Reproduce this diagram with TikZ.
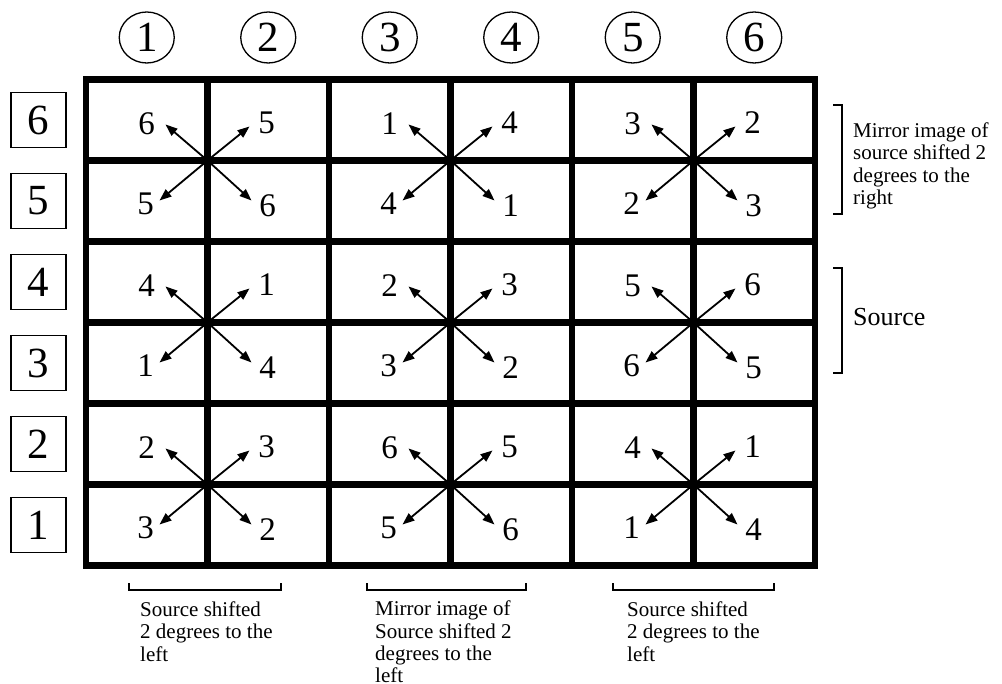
\documentclass[tikz,border=0pt]{standalone}
\usepackage{fontspec}
\setmainfont{Liberation Serif}
\usetikzlibrary{arrows.meta,calc,shapes.geometric}
\begin{document}
\begin{tikzpicture}[x=1pt,y=-1pt,
  gridline/.style={line width=6.5pt},
  colmark/.style={draw, line width=1.3pt, ellipse, minimum width=55pt, minimum height=51pt, inner sep=0pt, font=\fontsize{43}{43}\selectfont},
  rowmark/.style={draw, line width=1.3pt, rectangle, minimum width=55pt, minimum height=55pt, inner sep=0pt, font=\fontsize{43}{43}\selectfont},
  cellnum/.style={inner sep=0pt, font=\fontsize{33}{33}\selectfont},
  arr/.style={line width=1.8pt, -{Triangle[length=12pt,width=9pt]}},
  brk/.style={line width=1.3pt},
  note/.style={inner sep=0pt, anchor=north west, align=left, font=\fontsize{21}{22.3}\selectfont}]
\useasboundingbox (0,0) rectangle (1002,684);
% column markers
\foreach \i/\x in {1/146.75, 2/268.25, 3/389.75, 4/511.25, 5/632.75, 6/754.25}
  \node[colmark] (col\i) at (\x,37.5) {\i};
% row markers
\foreach \i/\y in {6/120, 5/201, 4/282, 3/363, 2/444, 1/525}
  \node[rowmark] (row\i) at (38.5,\y) {\i};
% grid
\draw[gridline] (86,79.5) rectangle (815,565.5);
\foreach \x in {207.5, 329, 450.5, 572, 693.5}
  \draw[gridline] (\x,79.5) -- (\x,565.5);
\foreach \y in {160.5, 241.5, 322.5, 403.5, 484.5}
  \draw[gridline] (86,\y) -- (815,\y);
% blocks
\foreach \bx/\by/\nw/\ne/\sw/\se/\n in {
  207.5/160.5/6/5/5/6/a, 450.5/160.5/1/4/4/1/b, 693.5/160.5/3/2/2/3/c,
  207.5/322.5/4/1/1/4/d, 450.5/322.5/2/3/3/2/e, 693.5/322.5/5/6/6/5/f,
  207.5/484.5/2/3/3/2/g, 450.5/484.5/6/5/5/6/h, 693.5/484.5/4/1/1/4/i} {
  \coordinate (c\n) at (\bx,\by);
  \node[cellnum] (nw\n) at (\bx-61,\by-37) {\nw};
  \node[cellnum] (ne\n) at (\bx+59,\by-38) {\ne};
  \node[cellnum] (sw\n) at (\bx-62,\by+43) {\sw};
  \node[cellnum] (se\n) at (\bx+60,\by+45) {\se};
  \coordinate (tnw\n) at (\bx-42,\by-36);
  \coordinate (tne\n) at (\bx+42,\by-34);
  \coordinate (tsw\n) at (\bx-48,\by+40);
  \coordinate (tse\n) at (\bx+44,\by+40);
  \draw[arr] (c\n) -- (tnw\n);
  \draw[arr] (c\n) -- (tne\n);
  \draw[arr] (c\n) -- (tsw\n);
  \draw[arr] (c\n) -- (tse\n);
}
% right brackets
\draw[brk] (833,105) -- (842,105) -- (842,214) -- (833,214);
\node[note] (mirrorR) at (853,122.5) {Mirror image of\\source shifted 2\\degrees to the\\right};
\draw[brk] (833,268) -- (842,268) -- (842,373) -- (833,373);
\node[inner sep=0pt, anchor=base west, font=\fontsize{26}{26}\selectfont] (src) at (853,326) {Source};
% bottom brackets
\draw[brk] (129,583) -- (129,590) -- (281,590) -- (281,583);
\node[note] (leftA) at (140,601.5) {Source shifted\\2 degrees to the\\left};
\draw[brk] (367,583) -- (367,590) -- (526,590) -- (526,583);
\node[note] (mirrorB) at (375,601) {Mirror image of\\Source shifted 2\\degrees to the\\left};
\draw[brk] (613,583) -- (613,590) -- (774,590) -- (774,583);
\node[note] (leftC) at (627,601.5) {Source shifted\\2 degrees to the\\left};
\end{tikzpicture}
\end{document}
